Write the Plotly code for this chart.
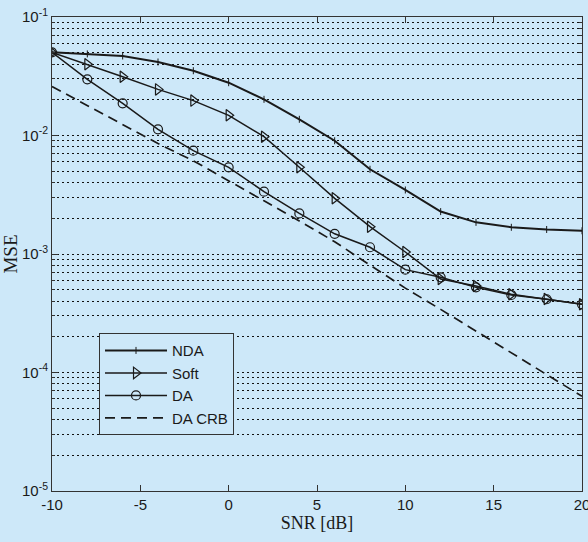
import plotly.graph_objects as go

snr = [-10, -8, -6, -4, -2, 0, 2, 4, 6, 8, 10, 12, 14, 16, 18, 20]

nda = [0.0503, 0.0488, 0.0469, 0.0417, 0.0352, 0.0279, 0.0202, 0.0137,
       0.00903, 0.00519, 0.00347, 0.00228, 0.00185, 0.00168, 0.00161, 0.00157]
soft = [0.0503, 0.0399, 0.0313, 0.0245, 0.0197, 0.0148, 0.00977, 0.0054,
        0.00295, 0.0017, 0.00104, 0.000615, 0.000537, 0.000457, 0.000417, 0.000376]
da = [0.0503, 0.0298, 0.0187, 0.01128, 0.00745, 0.00539, 0.00336, 0.0022,
      0.00148, 0.00114, 0.000738, 0.000636, 0.000523, 0.000451, 0.000415, 0.000376]
da_crb = [0.0259, 0.0179, 0.0124, 0.00855, 0.00612, 0.00417, 0.00281, 0.0019,
          0.00127, 0.000805, 0.000515, 0.000341, 0.000224, 0.000147, 9.6e-05, 6.3e-05]

x_ticks = [-10, -5, 0, 5, 10, 15, 20]
y_major = [1e-5, 1e-4, 1e-3, 1e-2, 1e-1]
y_major_text = ["10<sup>-5</sup>", "10<sup>-4</sup>", "10<sup>-3</sup>",
                "10<sup>-2</sup>", "10<sup>-1</sup>"]
y_minor = [m * d for d in [1e-5, 1e-4, 1e-3, 1e-2] for m in range(2, 10)]

BG = "#cde8f9"
INK = "#1a1a1a"
SANS = "Liberation Sans Narrow, Arial Narrow, Liberation Sans, Arial"
TICKFONT = dict(family=SANS, size=15, color=INK)

fig = go.Figure()
fig.add_trace(go.Scatter(
    x=snr, y=nda, name="NDA", mode="lines+markers",
    line=dict(color=INK, width=2),
    marker=dict(symbol="line-ns-open", size=5, line=dict(color=INK, width=1))))
fig.add_trace(go.Scatter(
    x=snr, y=soft, name="Soft", mode="lines+markers",
    line=dict(color=INK, width=1.5),
    marker=dict(symbol="triangle-right-open", size=10, color=INK,
                line=dict(color=INK, width=1.2))))
fig.add_trace(go.Scatter(
    x=snr, y=da, name="DA", mode="lines+markers",
    line=dict(color=INK, width=1.5),
    marker=dict(symbol="circle-open", size=9, color=INK,
                line=dict(color=INK, width=1.2))))
fig.add_trace(go.Scatter(
    x=snr, y=da_crb, name="DA CRB", mode="lines",
    line=dict(color=INK, width=1.7, dash="10px,6px")))

fig.update_layout(
    width=588, height=542,
    margin=dict(l=52, r=6, t=17, b=51, autoexpand=False),
    paper_bgcolor=BG, plot_bgcolor=BG,
    showlegend=True,
    legend=dict(
        x=0.0887, y=0.333, xanchor="left", yanchor="top",
        bgcolor=BG, bordercolor="#333333", borderwidth=1,
        font=dict(family=SANS, size=15, color=INK),
        itemwidth=62, tracegroupgap=0),
    xaxis=dict(
        range=[-10, 20], tickvals=x_ticks, ticktext=[str(v) for v in x_ticks],
        ticks="inside", ticklen=6, tickcolor="#333333", tickwidth=1,
        showline=True, linecolor="#333333", linewidth=1, mirror="ticks",
        showgrid=False, zeroline=False, tickfont=TICKFONT,
        ticklabeloverflow="allow", automargin=False,
        title=dict(text="SNR [dB]", standoff=4,
                   font=dict(family="Liberation Serif, Times New Roman, serif",
                             size=18, color=INK))),
    yaxis=dict(
        type="log", range=[-5, -1], tickvals=y_major, ticktext=y_major_text,
        ticks="inside", ticklen=6, tickcolor="#333333", tickwidth=1,
        showline=True, linecolor="#333333", linewidth=1, mirror="ticks",
        showgrid=True, gridcolor="#111111", gridwidth=1, griddash="2px,3px",
        zeroline=False, tickfont=TICKFONT, ticklabeloverflow="allow",
        automargin=False,
        minor=dict(tickvals=y_minor, ticks="inside", ticklen=3,
                   tickcolor="#333333", showgrid=True, gridcolor="#111111",
                   gridwidth=1, griddash="2px,3px"),
        title=dict(text="MSE", standoff=2,
                   font=dict(family="Liberation Serif, Times New Roman, serif",
                             size=19, color=INK))),
)

fig.write_html("out.html")
